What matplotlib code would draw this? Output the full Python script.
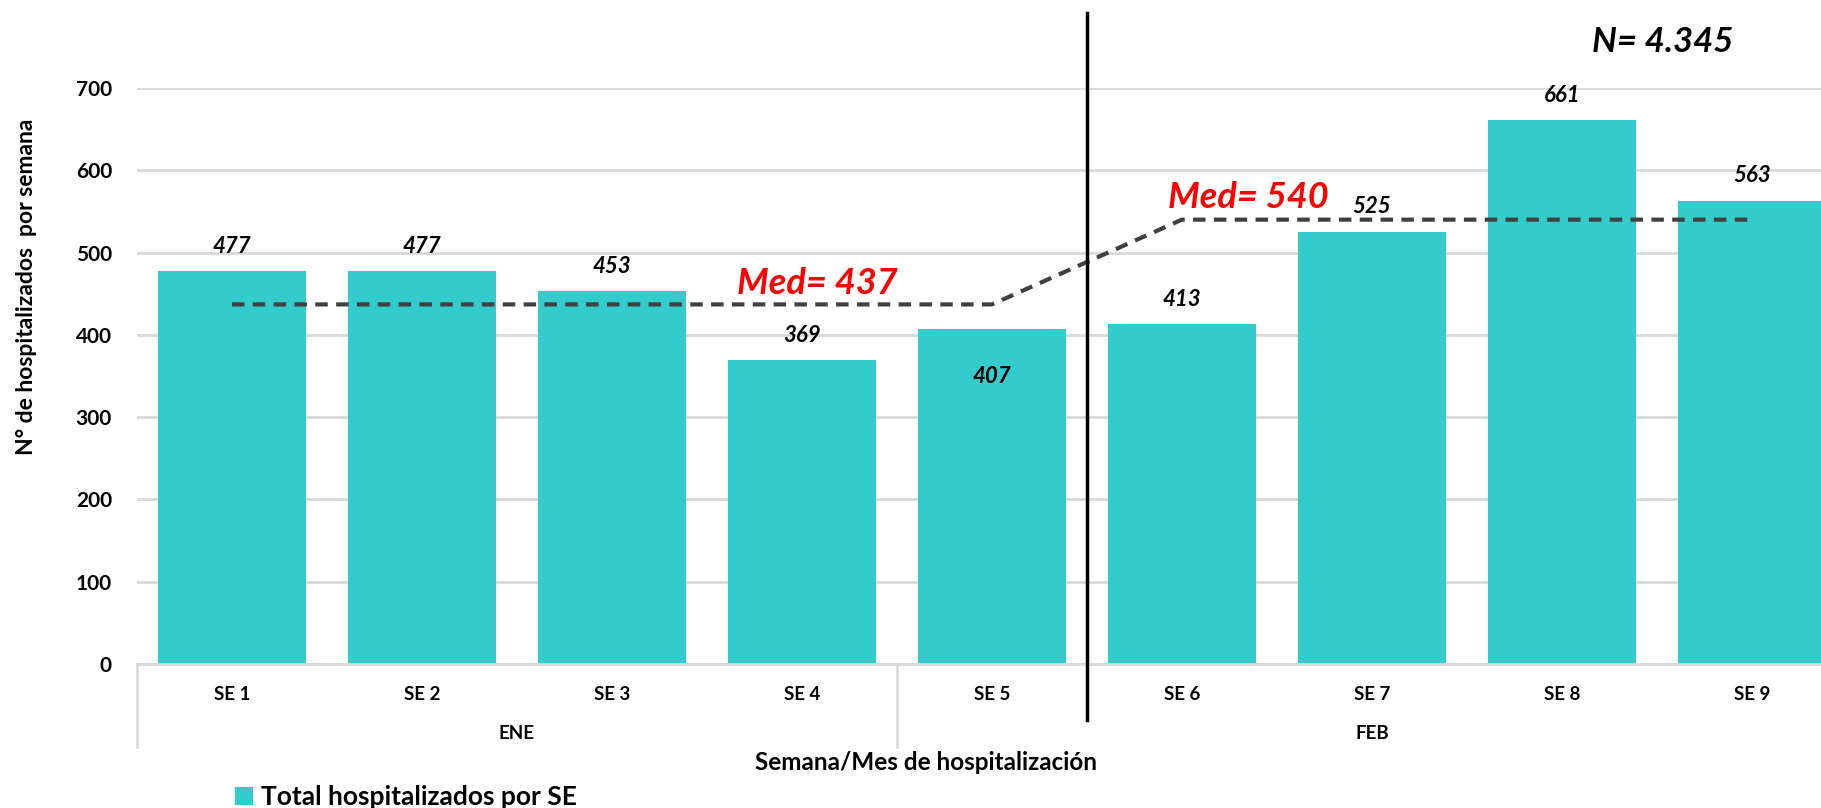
import matplotlib
matplotlib.use("Agg")
import matplotlib.pyplot as plt

plt.rcParams['font.family'] = ['Lato', 'DejaVu Sans']

# Weekly hospitalisations (epidemiological weeks) grouped by month
weeks = ["SE 1", "SE 2", "SE 3", "SE 4", "SE 5", "SE 6", "SE 7", "SE 8", "SE 9"]
hospitalized = [477, 477, 453, 369, 407, 413, 525, 661, 563]
months = ["ENE", "FEB"]
month_spans = [(0, 3), (4, 8)]          # first/last week index of each month

# Median per month (drawn as a dashed step line)
median_x = [0, 4, 5, 8]
median_y = [437, 437, 540, 540]
median_labels = ["Med= 437", "Med= 540"]
median_label_pos = [(3.08, 463), (5.35, 567)]
total_label = "N= 4.345"

BAR = "#33CBCC"
GRID = "#D9D9D9"

fig = plt.figure(figsize=(18.21, 8.08), dpi=100)
ax = fig.add_axes([0.0752, 0.1782, 0.939, 0.7129])

x = list(range(len(weeks)))
bars = ax.bar(x, hospitalized, width=0.78, color=BAR, zorder=2,
              label="Total hospitalizados por SE")

ax.set_xlim(-0.5, 8.5)
ax.set_ylim(0, 700)
ax.set_yticks(range(0, 701, 100))
ax.yaxis.grid(True, color=GRID, linewidth=2.0, zorder=0)
ax.set_axisbelow(True)
for side in ("top", "right", "left"):
    ax.spines[side].set_visible(False)
ax.spines["bottom"].set_color(GRID)
ax.spines["bottom"].set_linewidth(2.0)
ax.tick_params(axis="y", length=0, pad=18, labelsize=15)
for lab in ax.get_yticklabels():
    lab.set_fontweight("bold")

ax.set_xticks(x)
ax.set_xticklabels(weeks, fontsize=13.5, fontweight="bold")
ax.tick_params(axis="x", length=0, pad=16)

# Month level of the category axis
for name, (a, b) in zip(months, month_spans):
    ax.text((a + b) / 2, -85, name, ha="center", va="center",
            fontsize=13.5, fontweight="bold", clip_on=False)
for bx in (-0.5, 3.5):
    ax.plot([bx, bx], [0, -101], color=GRID, linewidth=1.8, clip_on=False)

# Value labels
for xi, v in zip(x, hospitalized):
    dy = -34 if weeks[xi] == "SE 5" else 18
    ax.annotate(str(v), (xi, v), xytext=(0, dy), textcoords="offset points",
                ha="center", va="center", fontsize=16, fontweight="bold",
                fontstyle="italic", zorder=5)

# Median step line and labels
ax.plot(median_x, median_y, color="#404040", linewidth=3, linestyle=(0, (3, 2)),
        zorder=4)
for txt, (tx, ty) in zip(median_labels, median_label_pos):
    ax.text(tx, ty, txt, color="#FF0000", fontsize=26, fontweight="bold",
            fontstyle="italic", ha="center", va="center", zorder=5)

# Month divider
ax.plot([4.5, 4.5], [-68, 791], color="black", linewidth=2.5, clip_on=False,
        zorder=6)

ax.text(7.53, 756, total_label, fontsize=25, fontweight="bold",
        fontstyle="italic", ha="center", va="center", clip_on=False)

fig.text(0.0143, 0.645, "N° de hospitalizados  por semana", rotation=90,
         ha="center", va="center", fontsize=16.5, fontweight="bold")
fig.text(0.5085, 0.056, "Semana/Mes de hospitalización", ha="center",
         va="center", fontsize=17.5, fontweight="bold")

fig.legend(handles=[bars], loc="center left",
           bbox_to_anchor=(0.129, 1 - 797 / 808), frameon=False,
           handlelength=0.7, handleheight=0.7, handletextpad=0.3,
           borderaxespad=0, borderpad=0,
           prop={"size": 19, "weight": "bold"})

fig.savefig("out.png", dpi=100)
